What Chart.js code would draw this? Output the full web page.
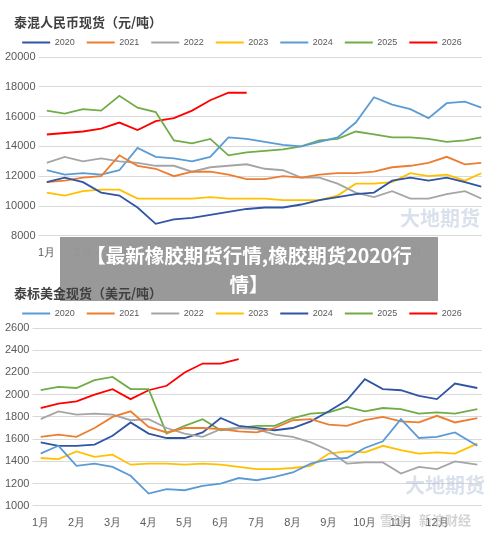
<!DOCTYPE html>
<html lang="zh">
<head>
<meta charset="UTF-8">
<script src="https://cdn.jsdelivr.net/npm/chart.js"></script>
<style>
  body { margin: 0; width: 500px; height: 538px; background: #fff; font-family: "Noto Sans CJK SC", "Noto Sans", sans-serif; position: relative; overflow: hidden; }
  .title { position: absolute; left: 14px; font-size: 13px; font-weight: bold; color: #404040; z-index: 5; }
  .box { position: absolute; left: 0; width: 500px; }
  .mark { position: absolute; color: rgba(150,170,200,0.35); font-weight: bold; font-size: 20px; }
  .banner { position: absolute; left: 60px; top: 237px; width: 378px; height: 64px; background: rgba(150,150,150,0.97); color: #fff; font-weight: bold; font-size: 19.5px; text-align: center; line-height: 29px; padding-top: 3px; box-sizing: border-box; white-space: nowrap; }
</style>
</head>
<body>
<div class="title" style="top:12px">泰混人民币现货（元/吨）</div>
<div class="box" style="top:26px;height:237px"><canvas id="c1"></canvas></div>
<div class="mark" style="left:400px;top:203px">大地期货</div>
<div class="title" style="top:283px">泰标美金现货（美元/吨）</div>
<div class="box" style="top:297px;height:236px"><canvas id="c2"></canvas></div>
<div class="mark" style="left:405px;top:470px">大地期货</div>
<div class="mark" style="left:380px;top:510px;font-size:13px;color:rgba(160,160,160,0.45)">雪球：新浪财经</div>
<div class="banner">【最新橡胶期货行情,橡胶期货2020行<br>情】</div>
<script>
// half-month positions (1 = 1月)
const months1 = [1,1.5,2,2.5,3,3.5,4,4.5,5,5.5,6,6.5,7,7.5,8,8.5,9,9.5,10,10.5,11,11.5,12,12.5,12.95];
const months2 = [1,1.5,2,2.5,3,3.5,4,4.5,5,5.5,6,6.5,7,7.5,8,8.5,9,9.5,10,10.5,11,11.5,12,12.5,13.12];
const years = ['2020','2021','2022','2023','2024','2025','2026'];

// 泰混人民币现货
const rmb2020 = [11600,11900,11600,10900,10700,9900,8800,9100,9200,9400,9600,9800,9900,9900,10100,10400,10600,10800,10900,11700,11900,11700,11900,11600,11300];
const rmb2021 = [11600,11700,11900,12000,13400,12700,12500,12000,12300,12300,12100,11800,11800,12000,11900,12100,12200,12200,12300,12600,12700,12900,13300,12800,12900];
const rmb2022 = [12900,13300,13000,13200,13000,12900,12700,12700,12300,12600,12700,12800,12500,12400,11900,11900,11500,10900,10600,11000,10500,10500,10800,11000,10500];
const rmb2023 = [10900,10700,11000,11100,11100,10500,10500,10500,10500,10600,10500,10500,10500,10400,10400,10400,10700,11500,11500,11600,12200,12000,12100,11700,12200];
const rmb2024 = [12400,12100,12200,12100,12400,13900,13300,13200,13000,13300,14600,14500,14300,14100,14000,14300,14600,15600,17300,16800,16500,15900,16900,17000,16600];
const rmb2025 = [16400,16200,16500,16400,17400,16600,16300,14400,14200,14500,13400,13600,13700,13800,14000,14400,14500,15000,14800,14600,14600,14500,14300,14400,14600];
const rmb2026 = [14800,14900,15000,15200,15600,15100,15700,15900,16400,17100,17600,17600];

// 泰标美金现货
const usd2020 = [1470,1540,1360,1380,1350,1270,1110,1150,1140,1180,1200,1250,1230,1260,1300,1380,1420,1430,1520,1580,1780,1610,1620,1660,1540];
const usd2021 = [1620,1640,1620,1700,1800,1850,1710,1660,1700,1700,1690,1670,1660,1700,1770,1780,1730,1720,1770,1800,1760,1750,1810,1750,1790];
const usd2022 = [1780,1850,1820,1830,1820,1770,1780,1700,1650,1620,1690,1700,1690,1640,1620,1570,1500,1380,1390,1390,1290,1350,1330,1400,1370];
const usd2023 = [1430,1420,1490,1440,1460,1370,1380,1380,1370,1380,1370,1350,1330,1330,1340,1360,1470,1490,1480,1540,1500,1470,1480,1470,1560];
const usd2024 = [1570,1540,1540,1550,1630,1750,1650,1610,1610,1660,1790,1720,1700,1680,1700,1760,1850,1950,2140,2050,2040,1990,1960,2100,2060];
const usd2025 = [2040,2070,2060,2130,2160,2050,2050,1650,1720,1780,1680,1700,1720,1720,1790,1830,1840,1890,1850,1880,1870,1830,1840,1830,1870];
const usd2026 = [1880,1920,1940,2000,2050,1960,2040,2080,2200,2280,2280,2320];

const colors1 = ['#2f55a4','#ed7d31','#a5a5a5','#ffc000','#5b9bd5','#70ad47','#ff0000'];
const colors2 = ['#5b9bd5','#ed7d31','#a5a5a5','#ffc000','#2f55a4','#70ad47','#ff0000'];

function makeChart(id, xs, series, colors, yMin, yMax, step, xMax) {
  new Chart(document.getElementById(id), {
    type: 'line',
    data: {
      datasets: series.map((vals, i) => ({
        label: years[i],
        data: vals.map((v, k) => ({ x: xs[k], y: v })),
        borderColor: colors[i],
        backgroundColor: colors[i],
        borderWidth: 1.8,
        pointRadius: 0,
        tension: 0
      }))
    },
    options: {
      responsive: true,
      maintainAspectRatio: false,
      animation: false,
      layout: { padding: { left: 2, right: 18 } },
      plugins: {
        legend: {
          labels: { boxWidth: 28, boxHeight: 0, font: { size: 9 }, color: '#595959', padding: 12 }
        },
        tooltip: { enabled: false }
      },
      scales: {
        x: {
          type: 'linear', min: 1, max: xMax,
          grid: { display: false },
          border: { display: false },
          ticks: {
            stepSize: 1, color: '#595959', font: { size: 11 },
            callback: v => (v >= 1 && v <= 12 ? v + '月' : '')
          }
        },
        y: {
          min: yMin, max: yMax,
          grid: { color: '#d9d9d9' },
          border: { display: false },
          ticks: { stepSize: step, color: '#595959', font: { size: 11 }, callback: v => String(v) }
        }
      }
    }
  });
}

makeChart('c1', months1, [rmb2020, rmb2021, rmb2022, rmb2023, rmb2024, rmb2025, rmb2026], colors1, 8000, 20000, 2000, 12.97);
makeChart('c2', months2, [usd2020, usd2021, usd2022, usd2023, usd2024, usd2025, usd2026], colors2, 1000, 2600, 200, 13.25);
</script>
</body>
</html>
